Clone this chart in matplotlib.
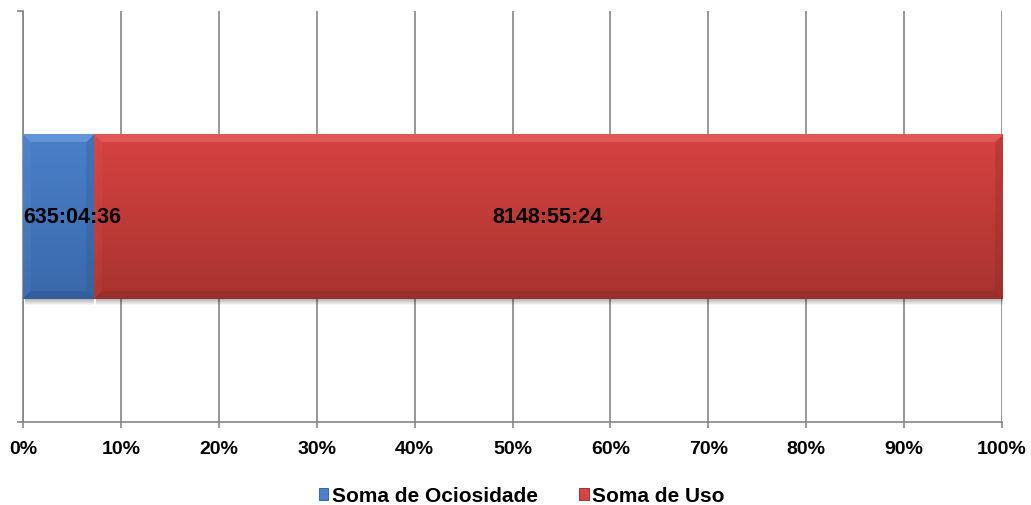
import numpy as np
import matplotlib
matplotlib.use("Agg")
import matplotlib.pyplot as plt
from matplotlib.patches import Patch
from matplotlib.ticker import PercentFormatter, MultipleLocator

# Idle vs. usage totals, in hours:minutes:seconds
series_names = ["Soma de Ociosidade", "Soma de Uso"]
series_labels = ["635:04:36", "8148:55:24"]
series_colors = ["#4a80c9", "#d64341"]
bevel_light = ["#86b6f0", "#f07a76"]
bevel_dark = ["#2b568f", "#8a2926"]
body_bottom = ["#3a69aa", "#a8332f"]


def to_hours(text):
    h, m, s = (int(p) for p in text.split(":"))
    return h + m / 60 + s / 3600


hours = np.array([to_hours(t) for t in series_labels])
shares = hours / hours.sum()

plt.rcParams["font.family"] = ["Liberation Sans", "DejaVu Sans"]
plt.rcParams["font.weight"] = "bold"

fig = plt.figure(figsize=(10.31, 5.06), dpi=100)
ax = fig.add_axes([23 / 1031, 83 / 506, 979 / 1031, 411 / 506])

grid_color = "#868686"
ax.set_xlim(0, 1)
ax.set_ylim(-0.5, 0.5)
ax.xaxis.set_major_locator(MultipleLocator(0.1))
ax.xaxis.set_major_formatter(PercentFormatter(xmax=1, decimals=0))
ax.set_yticks([-0.5, 0.5])
ax.set_yticklabels([])
ax.grid(axis="x", color=grid_color, lw=1.2, zorder=0)
ax.set_axisbelow(True)
for side in ("top", "right"):
    ax.spines[side].set_visible(False)
for side in ("left", "bottom"):
    ax.spines[side].set_color(grid_color)
    ax.spines[side].set_linewidth(1.2)
ax.tick_params(axis="x", direction="out", length=4, width=1.2, color=grid_color,
               labelsize=14, pad=9)
ax.tick_params(axis="y", direction="out", length=4.5, width=1.2, color=grid_color)

bar_height = 0.4
lefts = np.concatenate([[0], np.cumsum(shares)[:-1]])
bars = ax.barh([0] * len(shares), shares, left=lefts, height=bar_height,
               color=series_colors, zorder=2)

fig.canvas.draw()


def hex_rgb(c):
    return np.array(matplotlib.colors.to_rgb(c))


# bevelled, shaded fill for each segment
for k, rect in enumerate(bars):
    x0, y0 = rect.get_x(), rect.get_y()
    w, h = rect.get_width(), rect.get_height()
    p0 = ax.transData.transform((x0, y0))
    p1 = ax.transData.transform((x0 + w, y0 + h))
    W = max(int(round(p1[0] - p0[0])), 2)
    H = max(int(round(p1[1] - p0[1])), 2)
    rows = np.arange(H)[:, None] * np.ones((1, W))
    cols = np.ones((H, 1)) * np.arange(W)[None, :]
    t = rows / (H - 1)
    top = hex_rgb(series_colors[k])
    bot = hex_rgb(body_bottom[k])
    img = top[None, None, :] * (1 - t[..., None]) + bot[None, None, :] * t[..., None]
    b = 8
    dt, db, dl, dr = rows, H - 1 - rows, cols, W - 1 - cols
    dmin = np.minimum(np.minimum(dt, db), np.minimum(dl, dr))
    light = hex_rgb(bevel_light[k])
    dark = hex_rgb(bevel_dark[k])
    mask_t = (dt == dmin) & (dt < b)
    mask_b = (db == dmin) & (db < b) & ~mask_t
    mask_l = (dl == dmin) & (dl < b) & ~mask_t & ~mask_b
    mask_r = (dr == dmin) & (dr < b) & ~mask_t & ~mask_b & ~mask_l
    img[mask_t] = 0.4 * light + 0.6 * img[mask_t]
    img[mask_l] = 0.08 * light + 0.92 * img[mask_l]
    img[mask_r] = 0.3 * dark + 0.7 * img[mask_r]
    img[mask_b] = 0.5 * dark + 0.5 * img[mask_b]
    ax.imshow(np.clip(img, 0, 1), extent=[x0, x0 + w, y0, y0 + h],
              aspect="auto", zorder=3, interpolation="nearest")

    # soft drop shadow under the bar
    sh = 7
    shade = np.zeros((sh, W, 4))
    fade = np.linspace(0.28, 0.0, sh)
    shade[..., 3] = fade[:, None]
    dy = (y0 - ax.transData.inverted().transform((0, p0[1] - sh))[1])
    ax.imshow(shade, extent=[x0 + 0.002, x0 + w, y0 - dy, y0],
              aspect="auto", zorder=1.5, interpolation="bilinear")

ax.set_xlim(0, 1)
ax.set_ylim(-0.5, 0.5)

# value labels, kept inside the plot area
fig.canvas.draw()
renderer = fig.canvas.get_renderer()
ax_left_px = ax.transAxes.transform((0, 0))[0]
for rect, label in zip(bars, series_labels):
    cx = rect.get_x() + rect.get_width() / 2
    txt = ax.text(cx, 0, label, ha="center", va="center", fontsize=15.5,
                  fontweight="bold", color="black", zorder=5)
    bb = txt.get_window_extent(renderer)
    if bb.x0 < ax_left_px:
        txt.set_ha("left")
        txt.set_x(0)

handles = [Patch(facecolor=c, edgecolor=d, lw=0.6) for c, d in zip(series_colors, bevel_dark)]
fig.legend(handles, series_names, loc="center", bbox_to_anchor=(0.506, 0.018),
           ncol=2, frameon=False, handlelength=0.45, handleheight=0.45,
           handletextpad=0.15, columnspacing=2.0, prop={"weight": "bold", "size": 15})

fig.savefig("out.png", dpi=100)
